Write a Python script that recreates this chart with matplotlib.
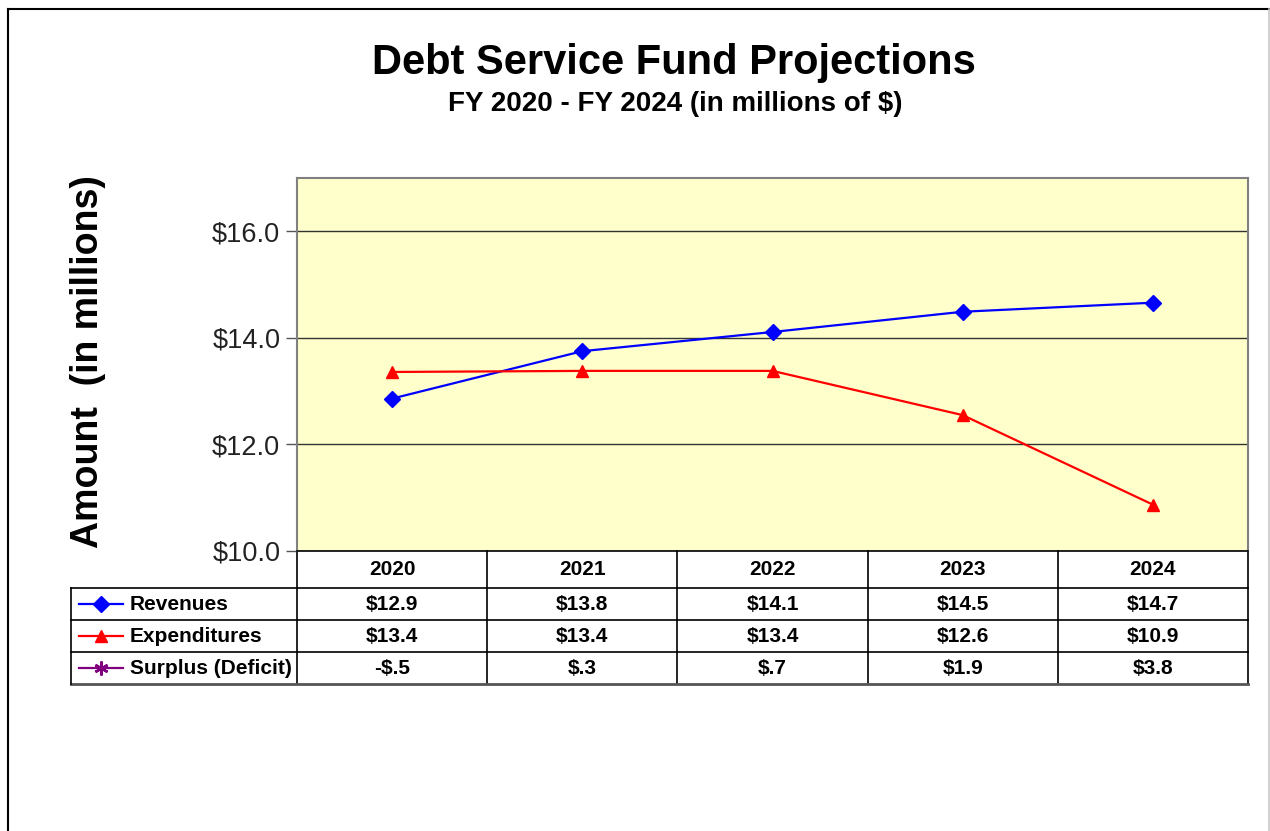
import numpy as np
import matplotlib.pyplot as plt
from matplotlib.lines import Line2D
from matplotlib.transforms import blended_transform_factory

plt.rcParams['font.family'] = ['Liberation Sans', 'DejaVu Sans']

years = ['2020', '2021', '2022', '2023', '2024']
revenues = [12.86, 13.75, 14.11, 14.49, 14.66]
expenditures = [13.36, 13.38, 13.38, 12.55, 10.87]
surplus = [-0.5, 0.3, 0.7, 1.9, 3.8]
series_names = ['Revenues', 'Expenditures', 'Surplus (Deficit)']


def money(v):
    s = '%.1f' % abs(v)
    if s.startswith('0'):
        s = s[1:]
    return ('-$' if v < 0 else '$') + s


W, H = 1270, 831
fig = plt.figure(figsize=(W / 100, H / 100), dpi=100)

# outer frame
fig.add_artist(Line2D([8 / W, 8 / W], [0, 1 - 9 / H], color='black', lw=1.5))
fig.add_artist(Line2D([8 / W, 1269 / W], [1 - 9 / H, 1 - 9 / H], color='black', lw=1.5))
fig.add_artist(Line2D([1269 / W, 1269 / W], [0, 1 - 9 / H], color='#c8c8c8', lw=1.2))

fig.text(674 / W, 1 - 63 / H, 'Debt Service Fund Projections', ha='center', va='center',
         fontsize=30, fontweight='bold')
fig.text(675 / W, 1 - 104 / H, 'FY 2020 - FY 2024 (in millions of $)', ha='center', va='center',
         fontsize=20, fontweight='bold')

# plot area
x0, x1, ytop, ybot = 297, 1248, 178, 551
ax = fig.add_axes([x0 / W, 1 - ybot / H, (x1 - x0) / W, (ybot - ytop) / H])
ax.set_facecolor('#ffffcc')
x = np.arange(len(years))
colors = ['#0000ff', '#ff0000', '#800080']
markers = ['D', '^', (6, 2, 0)]
sizes = [8.5, 9, 10]
for vals, c, m, ms in zip([revenues, expenditures, surplus], colors, markers, sizes):
    ax.plot(x, vals, color=c, lw=1.6, marker=m, markersize=ms, markeredgecolor=c)

ax.set_xlim(-0.5, 4.5)
ax.set_ylim(10, 17)
ax.set_yticks([10, 12, 14, 16])
ax.set_yticklabels(['$%.1f' % t for t in [10, 12, 14, 16]])
ax.tick_params(axis='y', length=8, width=1, color='#555555', labelsize=19.5,
               labelcolor='#222222', pad=4)
ax.set_xticks([])
ax.grid(axis='y', color='#333333', lw=1)
ax.set_axisbelow(True)
for side in ['left', 'top', 'right']:
    ax.spines[side].set_color('#808080')
    ax.spines[side].set_linewidth(1.5)
ax.spines['bottom'].set_color('black')
ax.spines['bottom'].set_linewidth(1.2)

fig.text(88 / W, 1 - 362 / H, 'Amount  (in millions)', rotation=90, ha='center', va='center',
         fontsize=27, fontweight='bold')

# data table under the plot, columns aligned with the categories
tr = blended_transform_factory(ax.transData, ax.transAxes)
ah = ybot - ytop
rows_px = [0, 37, 69, 101, 133]
rows = [-r / ah for r in rows_px]
left = -0.5 - (x0 - 71) / ((x1 - x0) / 5)
edges = np.arange(len(years) + 1) - 0.5
kw = dict(transform=tr, clip_on=False, color='black', lw=1.2)

for e in edges:
    ax.plot([e, e], [rows[0], rows[-1]], **kw)
for r in rows[1:-1]:
    ax.plot([left, edges[-1]], [r, r], **kw)
ax.plot([left, edges[-1]], [rows[-1], rows[-1]], transform=tr, clip_on=False,
        color='#555555', lw=2)
ax.plot([left, left], [rows[1], rows[-1]], **kw)

for i, yr in enumerate(years):
    ax.text(i, (rows[0] + rows[1]) / 2, yr, transform=tr, ha='center', va='center',
            fontsize=15, fontweight='bold')

unit = (x1 - x0) / 5
table_vals = [revenues, expenditures, surplus]
for k, (name, vals, c, m, ms) in enumerate(zip(series_names, table_vals, colors, markers, sizes)):
    yc = (rows[k + 1] + rows[k + 2]) / 2
    ax.plot([left + 8 / unit, left + 52 / unit], [yc, yc], transform=tr, clip_on=False,
            color=c, lw=1.6)
    ax.plot([left + 30 / unit], [yc], transform=tr, clip_on=False, color=c, marker=m,
            markersize=ms, markeredgecolor=c, markeredgewidth=1.8 if k == 2 else 1)
    ax.text(left + 59 / unit, yc, name, transform=tr, ha='left', va='center',
            fontsize=15, fontweight='bold')
    for i, v in enumerate(vals):
        ax.text(i, yc, money(v), transform=tr, ha='center', va='center',
                fontsize=15, fontweight='bold')

fig.savefig('out.png', dpi=100)
